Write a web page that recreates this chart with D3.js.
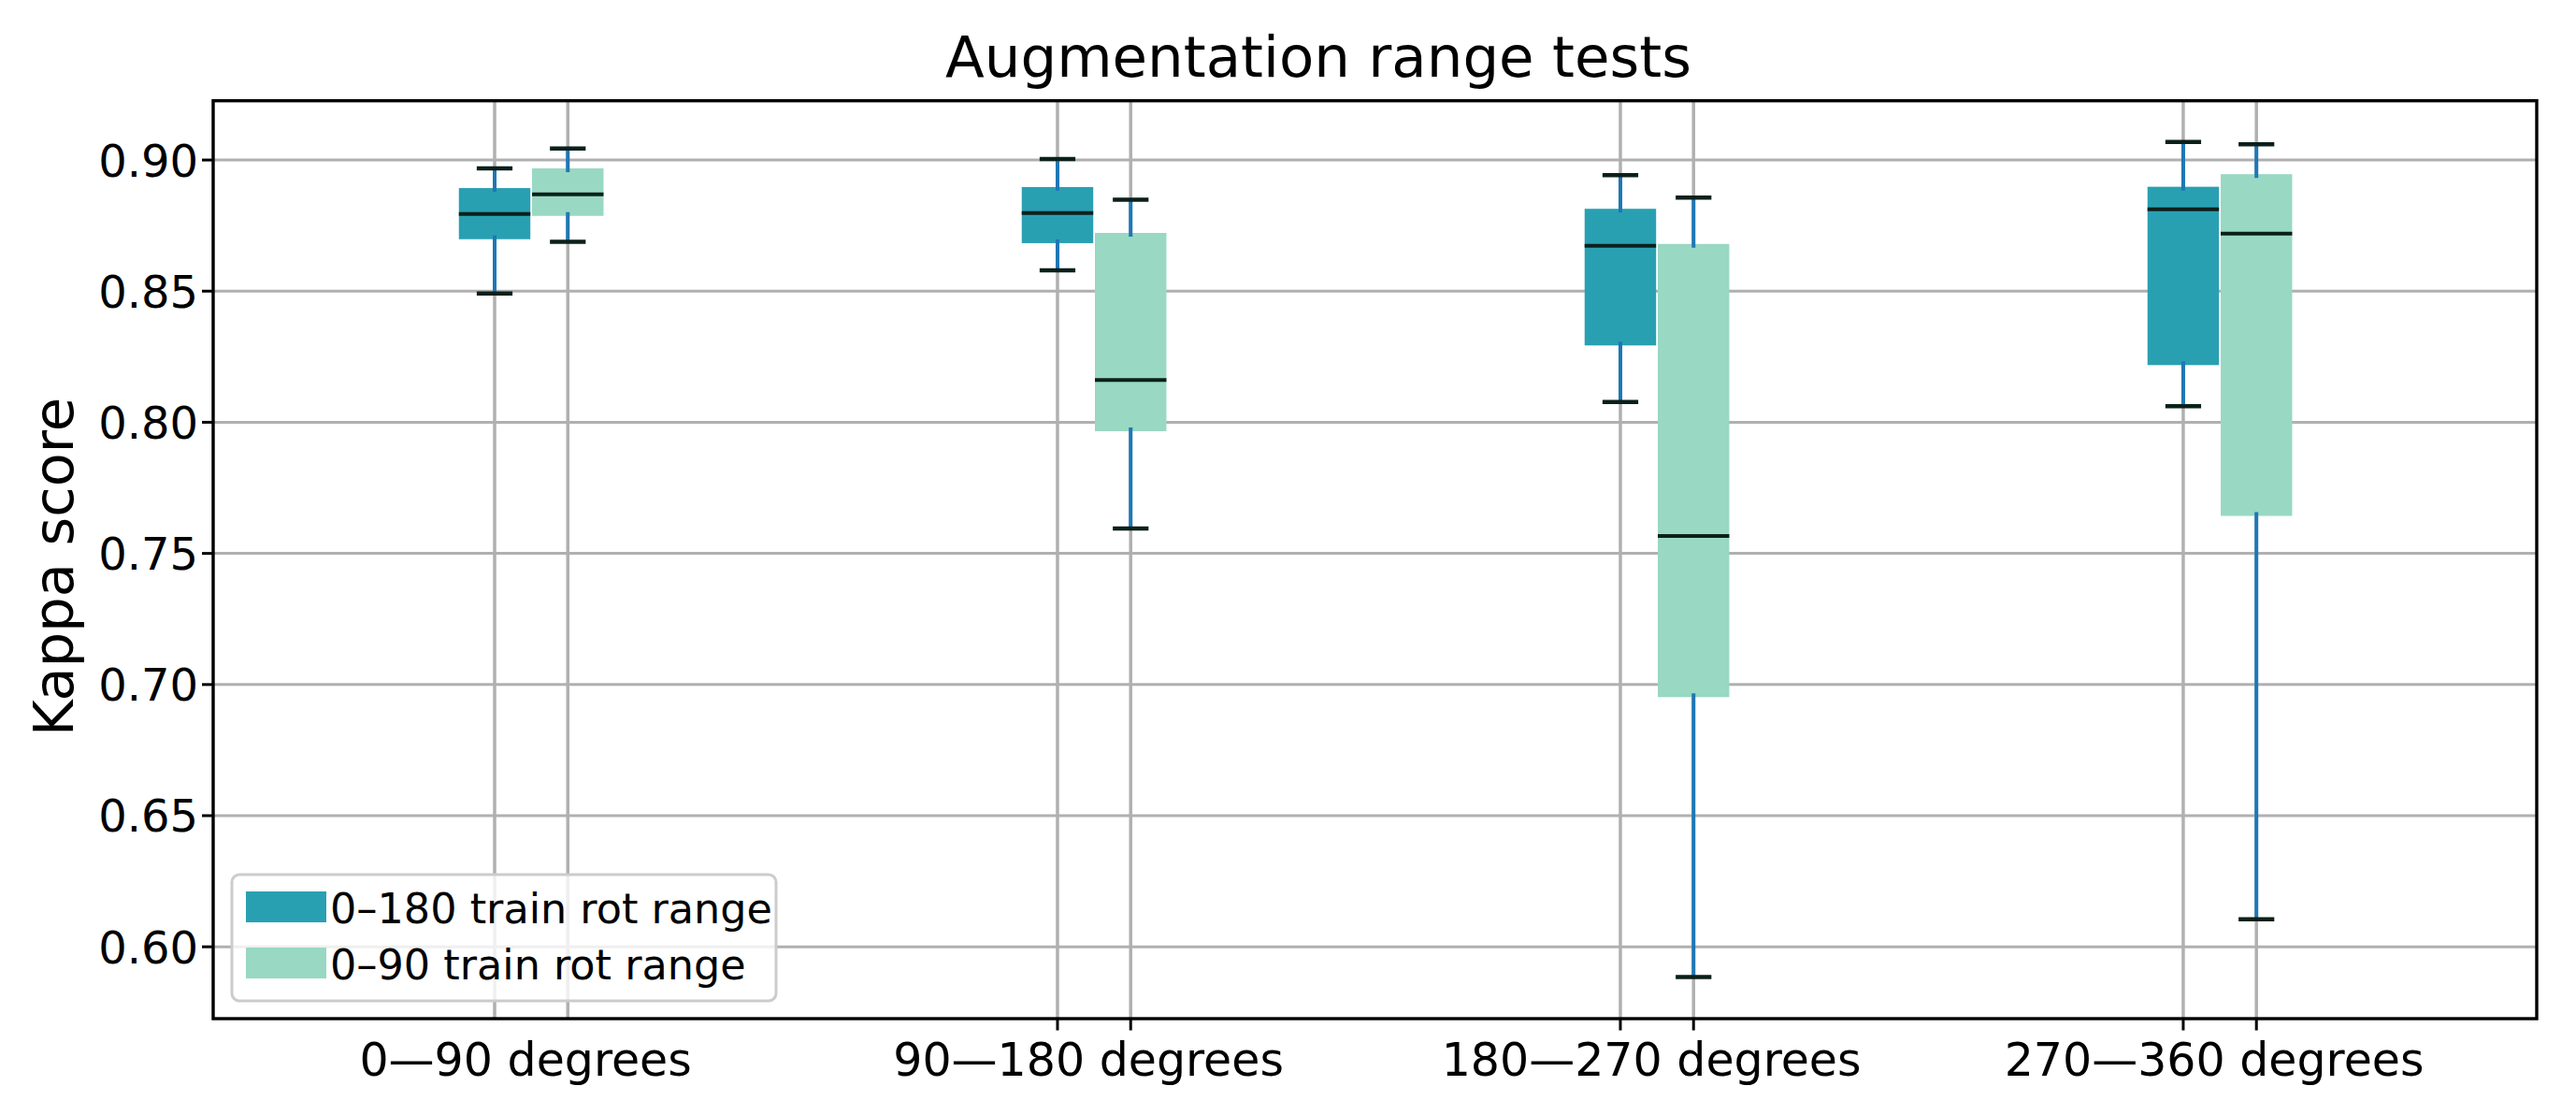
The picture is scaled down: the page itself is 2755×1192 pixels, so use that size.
<!DOCTYPE html>
<html>
<head>
<meta charset="utf-8">
<script src="https://cdn.jsdelivr.net/npm/d3@7/dist/d3.min.js"></script>
<style>
  html, body { margin: 0; padding: 0; background: #ffffff; }
  svg { display: block; }
  text { font-family: "DejaVu Sans", sans-serif; fill: #000; }
</style>
</head>
<body>
<svg id="chart" width="2755" height="1192"></svg>
<script>
// ---------------- data ----------------
const categories = ["0\u201490 degrees", "90\u2014180 degrees", "180\u2014270 degrees", "270\u2014360 degrees"];
const seriesNames = ["0\u2013180 train rot range", "0\u201390 train rot range"];
const seriesColors = ["#29a0b2", "#99d8c3"];

// 0–180 train rot range
const s1WhiskerLow  = [0.8491, 0.8579, 0.8077, 0.8061];
const s1Q1          = [0.8698, 0.8683, 0.8293, 0.8218];
const s1Median      = [0.8794, 0.8798, 0.8673, 0.8812];
const s1Q3          = [0.8893, 0.8897, 0.8814, 0.8898];
const s1WhiskerHigh = [0.8968, 0.9004, 0.8942, 0.9069];

// 0–90 train rot range
const s2WhiskerLow  = [0.8688, 0.7595, 0.5885, 0.6105];
const s2Q1          = [0.8787, 0.7966, 0.6952, 0.7643];
const s2Median      = [0.8869, 0.8161, 0.7566, 0.8719];
const s2Q3          = [0.8968, 0.8722, 0.8680, 0.8946];
const s2WhiskerHigh = [0.9044, 0.8849, 0.8857, 0.9060];

const yTicks = [0.60, 0.65, 0.70, 0.75, 0.80, 0.85, 0.90];
const yTickLabels = ["0.60", "0.65", "0.70", "0.75", "0.80", "0.85", "0.90"];

// ---------------- layout ----------------
const L = 228, R = 2713, T = 107.7, B = 1089;
const svg = d3.select("#chart");

const x = d3.scaleLinear().domain([-0.565, 3.563]).range([L, R]);
const y = d3.scaleLinear().domain([0.5726, 0.9226]).range([B, T]);

const offset = 0.065, boxW = 0.127;

const series = [
  {name: seriesNames[0], color: seriesColors[0], off: -offset,
   lo: s1WhiskerLow, q1: s1Q1, med: s1Median, q3: s1Q3, hi: s1WhiskerHigh},
  {name: seriesNames[1], color: seriesColors[1], off: offset,
   lo: s2WhiskerLow, q1: s2Q1, med: s2Median, q3: s2Q3, hi: s2WhiskerHigh}
];

const boxes = [];
series.forEach((s, si) => {
  categories.forEach((c, i) => {
    boxes.push({si, i, pos: i + s.off, color: s.color,
      lo: s.lo[i], q1: s.q1[i], med: s.med[i], q3: s.q3[i], hi: s.hi[i]});
  });
});

const gridColor = "#b0b0b0";
const darkLine = "#0b201b";

// grid
const grid = svg.append("g");
grid.selectAll("line.hg").data(yTicks).join("line")
  .attr("x1", L).attr("x2", R)
  .attr("y1", d => y(d)).attr("y2", d => y(d))
  .attr("stroke", gridColor).attr("stroke-width", 3);
grid.selectAll("line.vg").data(boxes).join("line")
  .attr("x1", d => x(d.pos)).attr("x2", d => x(d.pos))
  .attr("y1", T).attr("y2", B)
  .attr("stroke", gridColor).attr("stroke-width", 3.5);

// boxes
const g = svg.append("g");
g.selectAll("rect.box").data(boxes).join("rect")
  .attr("x", d => x(d.pos - boxW / 2))
  .attr("width", d => x(d.pos + boxW / 2) - x(d.pos - boxW / 2))
  .attr("y", d => y(d.q3))
  .attr("height", d => y(d.q1) - y(d.q3))
  .attr("fill", d => d.color);

// whiskers
g.selectAll("line.wh").data(boxes).join("line")
  .attr("x1", d => x(d.pos)).attr("x2", d => x(d.pos))
  .attr("y1", d => y(d.hi)).attr("y2", d => y(d.q3) + 4)
  .attr("stroke", "#1f77b4").attr("stroke-width", 4);
g.selectAll("line.wl").data(boxes).join("line")
  .attr("x1", d => x(d.pos)).attr("x2", d => x(d.pos))
  .attr("y1", d => y(d.q1) - 4).attr("y2", d => y(d.lo))
  .attr("stroke", "#1f77b4").attr("stroke-width", 4);

// caps
const capHalf = boxW / 4;
["hi", "lo"].forEach(k => {
  g.selectAll("line.cap" + k).data(boxes).join("line")
    .attr("x1", d => x(d.pos - capHalf)).attr("x2", d => x(d.pos + capHalf))
    .attr("y1", d => y(d[k])).attr("y2", d => y(d[k]))
    .attr("stroke", darkLine).attr("stroke-width", 4.5);
});

// medians
g.selectAll("line.med").data(boxes).join("line")
  .attr("x1", d => x(d.pos - boxW / 2)).attr("x2", d => x(d.pos + boxW / 2))
  .attr("y1", d => y(d.med)).attr("y2", d => y(d.med))
  .attr("stroke", darkLine).attr("stroke-width", 4);

// y axis ticks and labels
const ya = svg.append("g");
ya.selectAll("line").data(yTicks).join("line")
  .attr("x1", L - 12).attr("x2", L)
  .attr("y1", d => y(d)).attr("y2", d => y(d))
  .attr("stroke", "#000").attr("stroke-width", 3);
ya.selectAll("text").data(yTicks).join("text")
  .attr("x", L - 16).attr("y", d => y(d) + 17.5)
  .attr("text-anchor", "end").attr("font-size", 48)
  .text((d, i) => yTickLabels[i]);

// x ticks (visible for groups 2-4 in the reference)
const xa = svg.append("g");
xa.selectAll("line").data(boxes.filter(d => d.i > 0)).join("line")
  .attr("x1", d => x(d.pos)).attr("x2", d => x(d.pos))
  .attr("y1", B).attr("y2", B + 12.5)
  .attr("stroke", "#000").attr("stroke-width", 3);
xa.selectAll("text").data(categories).join("text")
  .attr("x", (d, i) => x(i) - 6).attr("y", 1150)
  .attr("text-anchor", "middle").attr("font-size", 49)
  .text(d => d);

// spines
svg.append("rect")
  .attr("x", L).attr("y", T).attr("width", R - L).attr("height", B - T)
  .attr("fill", "none").attr("stroke", "#000").attr("stroke-width", 3.4);

// title and axis label
svg.append("text").attr("x", 1410).attr("y", 82)
  .attr("text-anchor", "middle").attr("font-size", 61)
  .text("Augmentation range tests");
svg.append("text")
  .attr("transform", "translate(78," + 606 + ") rotate(-90)")
  .attr("text-anchor", "middle").attr("font-size", 59)
  .text("Kappa score");

// legend
const lg = svg.append("g");
lg.append("rect")
  .attr("x", 248).attr("y", 935).attr("width", 582).attr("height", 135)
  .attr("rx", 8).attr("ry", 8)
  .attr("fill", "#ffffff").attr("fill-opacity", 0.8)
  .attr("stroke", "#cccccc").attr("stroke-width", 3);
const items = lg.selectAll("g.item").data(series).join("g")
  .attr("transform", (d, i) => "translate(263," + (953 + i * 60) + ")");
items.append("rect").attr("x", 0).attr("y", 0).attr("width", 86).attr("height", 33)
  .attr("fill", d => d.color);
items.append("text").attr("x", 90).attr("y", 33 + 1).attr("font-size", 44.5)
  .text(d => d.name);
</script>
</body>
</html>
